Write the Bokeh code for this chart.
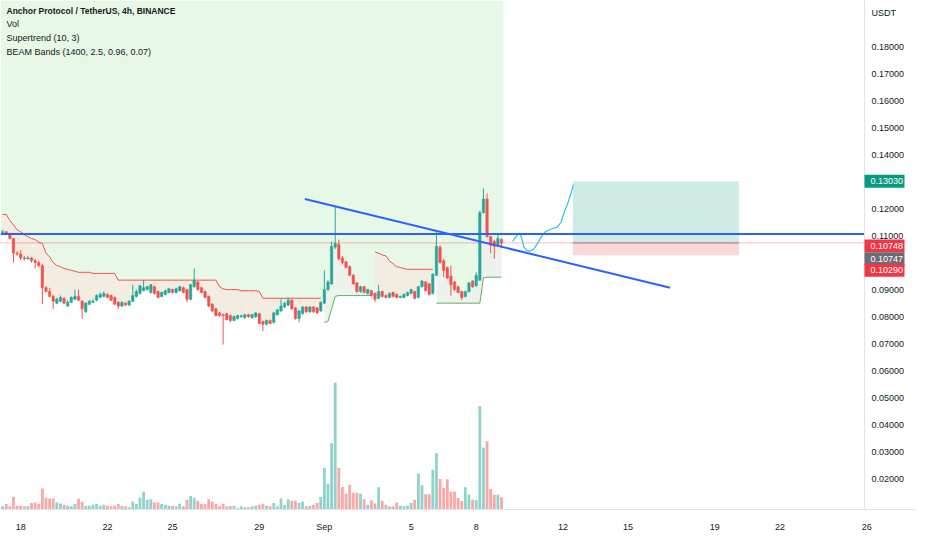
import numpy as np
import pandas as pd
from bokeh.plotting import figure
from bokeh.models import Range1d, FixedTicker, Label, ColumnDataSource
from bokeh.core.properties import value
from bokeh.embed import file_html
from bokeh.resources import INLINE

# ---------------- data ----------------
candle_start = "2022-08-17 04:00"   # 4h candles

opens = [
    0.1112, 0.1116, 0.1109, 0.1091, 0.1037, 0.1034, 0.1019, 0.1016, 0.1019, 0.1009,
    0.1002, 0.0991, 0.0909, 0.0895, 0.0877, 0.0852, 0.0859, 0.0870, 0.0841, 0.0855,
    0.0866, 0.0877, 0.0859, 0.0820, 0.0848, 0.0855, 0.0863, 0.0873, 0.0877, 0.0884,
    0.0880, 0.0873, 0.0855, 0.0841, 0.0852, 0.0845, 0.0859, 0.0877, 0.0888, 0.0898,
    0.0902, 0.0891, 0.0913, 0.0895, 0.0877, 0.0884, 0.0891, 0.0902, 0.0891, 0.0898,
    0.0909, 0.0902, 0.0866, 0.0913, 0.0930, 0.0909, 0.0895, 0.0877, 0.0848, 0.0831,
    0.0816, 0.0809, 0.0813, 0.0806, 0.0788, 0.0795, 0.0802, 0.0798, 0.0809, 0.0798,
    0.0802, 0.0813, 0.0784, 0.0774, 0.0788, 0.0781, 0.0809, 0.0823, 0.0838, 0.0845,
    0.0863, 0.0834, 0.0795, 0.0813, 0.0838, 0.0820, 0.0838, 0.0834, 0.0823, 0.0852,
    0.0902, 0.0923, 0.1059, 0.1069, 0.1019, 0.1005, 0.0987, 0.0955, 0.0927, 0.0895,
    0.0913, 0.0888, 0.0898, 0.0888, 0.0870, 0.0895, 0.0880, 0.0873, 0.0891, 0.0884,
    0.0873, 0.0873, 0.0880, 0.0888, 0.0895, 0.0873, 0.0913, 0.0930, 0.0923, 0.0888,
    0.0955, 0.1059, 0.1009, 0.0984, 0.0952, 0.0930, 0.0913, 0.0895, 0.0877, 0.0895,
    0.0934, 0.0916, 0.0937, 0.1187, 0.1237, 0.1098, 0.1080, 0.1066, 0.1087]

highs = [
    0.1123, 0.1119, 0.1112, 0.1094, 0.1044, 0.1048, 0.1027, 0.1027, 0.1023, 0.1016,
    0.1009, 0.0998, 0.0916, 0.0909, 0.0884, 0.0873, 0.0880, 0.0873, 0.0863, 0.0877,
    0.0902, 0.0902, 0.0863, 0.0855, 0.0863, 0.0866, 0.0884, 0.0891, 0.0895, 0.0888,
    0.0884, 0.0877, 0.0859, 0.0859, 0.0855, 0.0863, 0.0920, 0.0902, 0.0920, 0.0937,
    0.0916, 0.0923, 0.0916, 0.0898, 0.0895, 0.0902, 0.0909, 0.0905, 0.0909, 0.0916,
    0.0913, 0.0905, 0.0923, 0.0980, 0.0934, 0.0913, 0.0898, 0.0880, 0.0852, 0.0834,
    0.0820, 0.0813, 0.0816, 0.0809, 0.0806, 0.0809, 0.0809, 0.0813, 0.0813, 0.0813,
    0.0820, 0.0816, 0.0788, 0.0791, 0.0791, 0.0820, 0.0831, 0.0866, 0.0855, 0.0873,
    0.0866, 0.0838, 0.0827, 0.0841, 0.0841, 0.0841, 0.0841, 0.0838, 0.0859, 0.0973,
    0.0937, 0.1080, 0.1212, 0.1087, 0.1027, 0.1009, 0.0991, 0.0959, 0.0930, 0.0916,
    0.0916, 0.0905, 0.0902, 0.0891, 0.0920, 0.0898, 0.0884, 0.0891, 0.0895, 0.0888,
    0.0880, 0.0888, 0.0895, 0.0905, 0.0898, 0.0916, 0.0937, 0.0934, 0.0927, 0.0962,
    0.1116, 0.1066, 0.1016, 0.0987, 0.0991, 0.0934, 0.0916, 0.0898, 0.0898, 0.0930,
    0.0937, 0.0966, 0.1194, 0.1276, 0.1258, 0.1101, 0.1087, 0.1109, 0.1091]

lows = [
    0.1105, 0.1105, 0.1087, 0.1002, 0.1027, 0.1012, 0.1009, 0.1012, 0.1002, 0.0980,
    0.0984, 0.0848, 0.0891, 0.0873, 0.0831, 0.0848, 0.0855, 0.0848, 0.0838, 0.0852,
    0.0863, 0.0859, 0.0795, 0.0816, 0.0845, 0.0852, 0.0859, 0.0870, 0.0873, 0.0870,
    0.0859, 0.0845, 0.0831, 0.0838, 0.0841, 0.0841, 0.0855, 0.0873, 0.0884, 0.0895,
    0.0898, 0.0888, 0.0884, 0.0870, 0.0873, 0.0880, 0.0888, 0.0888, 0.0888, 0.0895,
    0.0888, 0.0855, 0.0863, 0.0909, 0.0898, 0.0888, 0.0870, 0.0838, 0.0820, 0.0802,
    0.0802, 0.0699, 0.0788, 0.0781, 0.0784, 0.0791, 0.0798, 0.0795, 0.0798, 0.0795,
    0.0798, 0.0774, 0.0749, 0.0770, 0.0774, 0.0777, 0.0806, 0.0820, 0.0834, 0.0841,
    0.0827, 0.0791, 0.0781, 0.0809, 0.0816, 0.0816, 0.0816, 0.0813, 0.0820, 0.0848,
    0.0898, 0.0920, 0.1052, 0.1009, 0.0995, 0.0980, 0.0952, 0.0920, 0.0891, 0.0891,
    0.0888, 0.0884, 0.0877, 0.0855, 0.0866, 0.0873, 0.0870, 0.0870, 0.0873, 0.0870,
    0.0870, 0.0870, 0.0877, 0.0884, 0.0866, 0.0870, 0.0909, 0.0895, 0.0880, 0.0884,
    0.0952, 0.0998, 0.0948, 0.0941, 0.0880, 0.0898, 0.0888, 0.0863, 0.0873, 0.0891,
    0.0909, 0.0913, 0.0934, 0.1183, 0.1094, 0.1037, 0.1016, 0.1062, 0.1055]

closes = [
    0.1116, 0.1109, 0.1091, 0.1037, 0.1034, 0.1019, 0.1016, 0.1019, 0.1009, 0.1002,
    0.0991, 0.0909, 0.0895, 0.0877, 0.0859, 0.0866, 0.0873, 0.0852, 0.0855, 0.0873,
    0.0877, 0.0863, 0.0831, 0.0852, 0.0859, 0.0859, 0.0880, 0.0884, 0.0888, 0.0873,
    0.0863, 0.0848, 0.0841, 0.0855, 0.0845, 0.0859, 0.0880, 0.0895, 0.0916, 0.0909,
    0.0913, 0.0920, 0.0888, 0.0873, 0.0891, 0.0898, 0.0905, 0.0891, 0.0905, 0.0913,
    0.0891, 0.0866, 0.0920, 0.0937, 0.0902, 0.0891, 0.0873, 0.0841, 0.0823, 0.0806,
    0.0806, 0.0806, 0.0791, 0.0788, 0.0802, 0.0806, 0.0806, 0.0809, 0.0802, 0.0809,
    0.0816, 0.0777, 0.0774, 0.0788, 0.0777, 0.0816, 0.0827, 0.0841, 0.0852, 0.0863,
    0.0831, 0.0795, 0.0823, 0.0838, 0.0820, 0.0838, 0.0820, 0.0816, 0.0855, 0.0902,
    0.0930, 0.1062, 0.1073, 0.1016, 0.1002, 0.0984, 0.0955, 0.0923, 0.0895, 0.0913,
    0.0891, 0.0902, 0.0880, 0.0866, 0.0895, 0.0877, 0.0873, 0.0888, 0.0877, 0.0873,
    0.0877, 0.0884, 0.0891, 0.0902, 0.0870, 0.0913, 0.0934, 0.0898, 0.0884, 0.0959,
    0.1062, 0.1002, 0.0973, 0.0945, 0.0920, 0.0902, 0.0891, 0.0873, 0.0895, 0.0927,
    0.0913, 0.0955, 0.1187, 0.1237, 0.1098, 0.1066, 0.1062, 0.1091, 0.10747]

# volume, millions
volumes = [
    0.33, 0.57, 0.33, 1.33, 0.40, 0.40, 0.33, 0.33, 0.67, 0.73,
    0.57, 2.17, 1.23, 1.13, 1.13, 0.73, 0.63, 0.50, 0.40, 0.33,
    0.57, 1.13, 0.80, 0.40, 0.40, 0.50, 0.57, 0.40, 0.50, 0.40,
    0.33, 0.40, 0.57, 0.40, 0.33, 0.23, 0.83, 0.57, 1.23, 1.83,
    1.00, 1.07, 0.73, 0.73, 0.57, 0.50, 0.40, 0.40, 0.33, 0.60,
    0.33, 1.00, 1.40, 1.23, 0.90, 0.57, 0.57, 1.07, 0.80, 0.57,
    0.33, 0.60, 0.33, 0.33, 0.40, 0.13, 0.33, 0.23, 0.23, 0.33,
    0.40, 0.50, 0.60, 0.40, 0.33, 0.67, 0.33, 1.13, 0.47, 1.07,
    0.90, 0.90, 0.67, 0.80, 0.33, 0.40, 0.47, 0.67, 1.30, 4.30,
    2.67, 6.90, 13.17, 4.33, 2.33, 1.63, 2.57, 1.73, 1.73, 1.63,
    1.07, 0.50, 0.97, 0.63, 2.30, 0.90, 0.50, 0.33, 0.33, 0.73,
    0.40, 0.33, 0.40, 0.67, 1.00, 3.73, 2.50, 1.57, 1.57, 4.13,
    5.83, 3.17, 2.23, 3.13, 1.87, 1.87, 1.20, 0.87, 2.30, 1.53,
    1.00, 0.97, 10.73, 6.40, 7.07, 2.13, 1.53, 1.53, 1.27]

# Supertrend (10, 3) value per candle
supertrend = [
    0.1180, 0.1180, 0.1158, 0.1141, 0.1123, 0.1116, 0.1105, 0.1098, 0.1091, 0.1087,
    0.1077, 0.1073, 0.1037, 0.1023, 0.1002, 0.0991, 0.0987, 0.0980, 0.0977, 0.0973,
    0.0970, 0.0966, 0.0966, 0.0966, 0.0966, 0.0962, 0.0962, 0.0962, 0.0962, 0.0962,
    0.0962, 0.0962, 0.0937, 0.0937, 0.0937, 0.0937, 0.0937, 0.0937, 0.0937, 0.0937,
    0.0937, 0.0937, 0.0937, 0.0937, 0.0937, 0.0937, 0.0937, 0.0937, 0.0937, 0.0937,
    0.0937, 0.0937, 0.0937, 0.0937, 0.0937, 0.0937, 0.0937, 0.0937, 0.0937, 0.0937,
    0.0913, 0.0905, 0.0902, 0.0902, 0.0902, 0.0902, 0.0898, 0.0898, 0.0898, 0.0898,
    0.0898, 0.0895, 0.0870, 0.0870, 0.0870, 0.0870, 0.0870, 0.0870, 0.0870, 0.0870,
    0.0870, 0.0870, 0.0870, 0.0870, 0.0870, 0.0870, 0.0870, 0.0870, 0.0870, 0.0781,
    0.0784, 0.0831, 0.0877, 0.0880, 0.0880, 0.0880, 0.0880, 0.0880, 0.0880, 0.0880,
    0.0880, 0.0880, 0.0880, 0.1041, 0.1037, 0.1030, 0.1027, 0.1009, 0.0998, 0.0987,
    0.0984, 0.0980, 0.0977, 0.0977, 0.0977, 0.0977, 0.0977, 0.0977, 0.0977, 0.0977,
    0.0852, 0.0852, 0.0852, 0.0852, 0.0852, 0.0852, 0.0852, 0.0852, 0.0852, 0.0852,
    0.0852, 0.0852, 0.0852, 0.0945, 0.0948, 0.0948, 0.0948, 0.0948, 0.0948]

tick_dates = ["2022-08-18", "2022-08-22", "2022-08-25", "2022-08-29", "2022-09-01", "2022-09-05",
              "2022-09-08", "2022-09-12", "2022-09-15", "2022-09-19", "2022-09-22", "2022-09-26"]
tick_labels = ["18", "22", "25", "29", "Sep", "5", "8", "12", "15", "19", "22", "26"]
price_ticks = [0.02, 0.03, 0.04, 0.05, 0.06, 0.07, 0.08, 0.09, 0.10, 0.11,
               0.12, 0.13, 0.14, 0.15, 0.16, 0.17, 0.18]

# drawings (x in chart days, Aug 1 = 1, Sep 1 = 32)
resistance_level = 0.1108
trend_x = [31.10, 47.94]
trend_y = [0.1237, 0.0909]
path_x = [40.68, 40.83, 41.01, 41.10, 41.19, 41.33, 41.47, 41.65, 41.83, 42.01,
          42.19, 42.46, 42.73, 42.91, 43.05, 43.23, 43.37, 43.48]
path_y = [0.1080, 0.1098, 0.1111, 0.1091, 0.1062, 0.1046, 0.1044, 0.1052, 0.1073, 0.1098,
          0.1116, 0.1126, 0.1133, 0.1151, 0.1187, 0.1223, 0.1258, 0.1290]
box_left, box_right = 43.46, 51.11
take_profit, entry_price, stop_loss = 0.13030, 0.10748, 0.10290
last_price = 0.10747

legend_lines = ["Anchor Protocol / TetherUS, 4h, BINANCE", "Vol", "Supertrend (10, 3)",
                "BEAM Bands (1400, 2.5, 0.96, 0.07)"]

# ---------------- build ----------------
BASE = pd.Timestamp("2022-07-31")
times = pd.date_range(candle_start, periods=len(opens), freq="4h")
x = np.asarray((times - BASE) / pd.Timedelta(days=1), dtype=float)
tick_x = [float((pd.Timestamp(d) - BASE) / pd.Timedelta(days=1)) for d in tick_dates]

o = np.array(opens); h = np.array(highs); l = np.array(lows); c = np.array(closes)
vol = np.array(volumes); st = np.array(supertrend)
mid = (o + c) / 2
up = c >= o
n = len(o)
bar = 1 / 6

UP, DOWN = "#26a69a", "#ef5350"
TXT = "#131722"
FONT = "Liberation Sans"

W, H = 916, 534
FH = 512
CHART_W = 864                       # width of the candle pane; the rest is the price scale
X0, XC = 17.07, 56.90               # pane spans X0..XC
X1 = X0 + (XC - X0) * W / CHART_W
Y0, Y1 = 0.0089, 0.1971
px_x = (X1 - X0) / W
px_y = (Y1 - Y0) / FH

p = figure(width=W, height=H, output_backend="svg", toolbar_location=None,
           x_range=Range1d(X0, X1), y_range=Range1d(Y0, Y1),
           y_axis_location=None, min_border_left=0, min_border_top=0,
           min_border_right=0, min_border_bottom=22,
           background_fill_color="white", border_fill_color="white", outline_line_color=None)
p.grid.visible = False
p.extra_y_ranges = {"vol": Range1d(0, 52.8)}

# BEAM background (green)
bg_x = np.concatenate([[x[0] - bar / 2], x, [x[-1] + bar / 2]])
bg_lo = np.concatenate([[mid[0]], mid, [mid[-1]]])
p.varea(x=bg_x, y1=bg_lo, y2=np.full(len(bg_x), Y1), fill_color="#e8f8e7")

# Supertrend fills
down = st > mid
runs = []
s = 0
for i in range(1, n + 1):
    if i == n or down[i] != down[s]:
        runs.append((s, i, bool(down[s])))
        s = i
for s, e, d in runs:
    p.varea(x=x[s:e], y1=st[s:e], y2=mid[s:e], fill_color="#f3ece0" if d else "#eef2ec")

# volume
vsrc = ColumnDataSource(dict(x=x, v=vol, color=[UP if u else DOWN for u in up]))
p.vbar(x="x", top="v", bottom=0, width=bar * 0.78, fill_color="color", fill_alpha=0.5,
       line_color=None, source=vsrc, y_range_name="vol")

# Supertrend lines
for s, e, d in runs:
    p.line(x[s:e], st[s:e], line_color="#ef5350" if d else "#5fae5f", line_width=1)

# candles
csrc = ColumnDataSource(dict(x=x, h=h, l=l, top=np.maximum(o, c), bot=np.minimum(o, c),
                             color=[UP if u else DOWN for u in up]))
p.segment(x0="x", y0="l", x1="x", y1="h", line_color="color", line_width=1, source=csrc)
p.vbar(x="x", top="top", bottom="bot", width=bar * 0.68, fill_color="color",
       line_color="color", line_width=0.5, source=csrc)

# position box
p.quad(left=[box_left], right=[box_right], bottom=[entry_price], top=[take_profit],
       fill_color="#089981", fill_alpha=0.2, line_color=None)
p.quad(left=[box_left], right=[box_right], bottom=[stop_loss], top=[entry_price],
       fill_color="#f23645", fill_alpha=0.2, line_color=None)
p.segment(x0=[box_left], y0=[entry_price], x1=[box_right], y1=[entry_price],
          line_color="#9598a1", line_width=1)

# last-price line
p.segment(x0=[X0], y0=[last_price], x1=[XC], y1=[last_price], line_color="#f23645",
          line_alpha=0.35, line_width=1)

# drawings
p.line(path_x, path_y, line_color="#26c6da", line_width=1.2)
p.line(trend_x, trend_y, line_color="#2962ff", line_width=2)
p.segment(x0=[X0], y0=[resistance_level], x1=[XC], y1=[resistance_level],
          line_color="#2962ff", line_width=2)

# ---- price scale (right) ----
p.quad(left=[XC], right=[X1], bottom=[Y0], top=[Y1], fill_color="white", line_color=None)
p.segment(x0=[XC], y0=[Y0], x1=[XC], y1=[Y1], line_color="#e0e3eb", line_width=1)
p.text(x=[XC] * len(price_ticks), y=price_ticks, text=[f"{t:.5f}" for t in price_ticks],
       x_offset=7, text_align="left", text_baseline="middle", text_font=value(FONT),
       text_font_size=value("9px"), text_color=TXT)
p.text(x=[XC], y=[Y1], text=["USDT"], x_offset=7, y_offset=12, text_align="left",
       text_baseline="middle", text_font=value(FONT), text_font_size=value("9px"), text_color=TXT)

tags = [(take_profit, "#089981", 0), (entry_price, "#f23645", 3),
        (last_price, "#6a6d78", 16), (stop_loss, "#f23645", 15)]
tag_y = [v - off * px_y for v, col, off in tags]
p.quad(left=[XC] * len(tags), right=[XC + 40 * px_x] * len(tags),
       bottom=[ty - 6.5 * px_y for ty in tag_y], top=[ty + 6.5 * px_y for ty in tag_y],
       fill_color=[col for v, col, off in tags], line_color=None)
p.text(x=[XC] * len(tags), y=tag_y, text=[f"{v:.5f}" for v, col, off in tags],
       x_offset=6, text_align="left", text_baseline="middle", text_font=value(FONT),
       text_font_size=value("9px"), text_color="white")

# time axis
xa = p.xaxis[0]
xa.ticker = FixedTicker(ticks=tick_x)
xa.major_label_overrides = {tx: lab for tx, lab in zip(tick_x, tick_labels)}
xa.major_tick_line_color = None
xa.minor_tick_line_color = None
xa.axis_line_color = "#e0e3eb"
xa.major_label_standoff = 6
xa.major_label_text_font = FONT
xa.major_label_text_font_size = "9px"
xa.major_label_text_color = TXT

# legend text
for k, (txt, yy) in enumerate(zip(legend_lines, [13, 26.7, 40.7, 54.3])):
    p.add_layout(Label(x=6, y=FH - yy, x_units="screen", y_units="screen", text=txt,
                       text_font=FONT, text_font_size="8.5px" if k == 0 else "9px",
                       text_font_style="bold" if k == 0 else "normal",
                       text_color=TXT, text_baseline="middle"))

open("out.html", "w").write(file_html(p, INLINE))
